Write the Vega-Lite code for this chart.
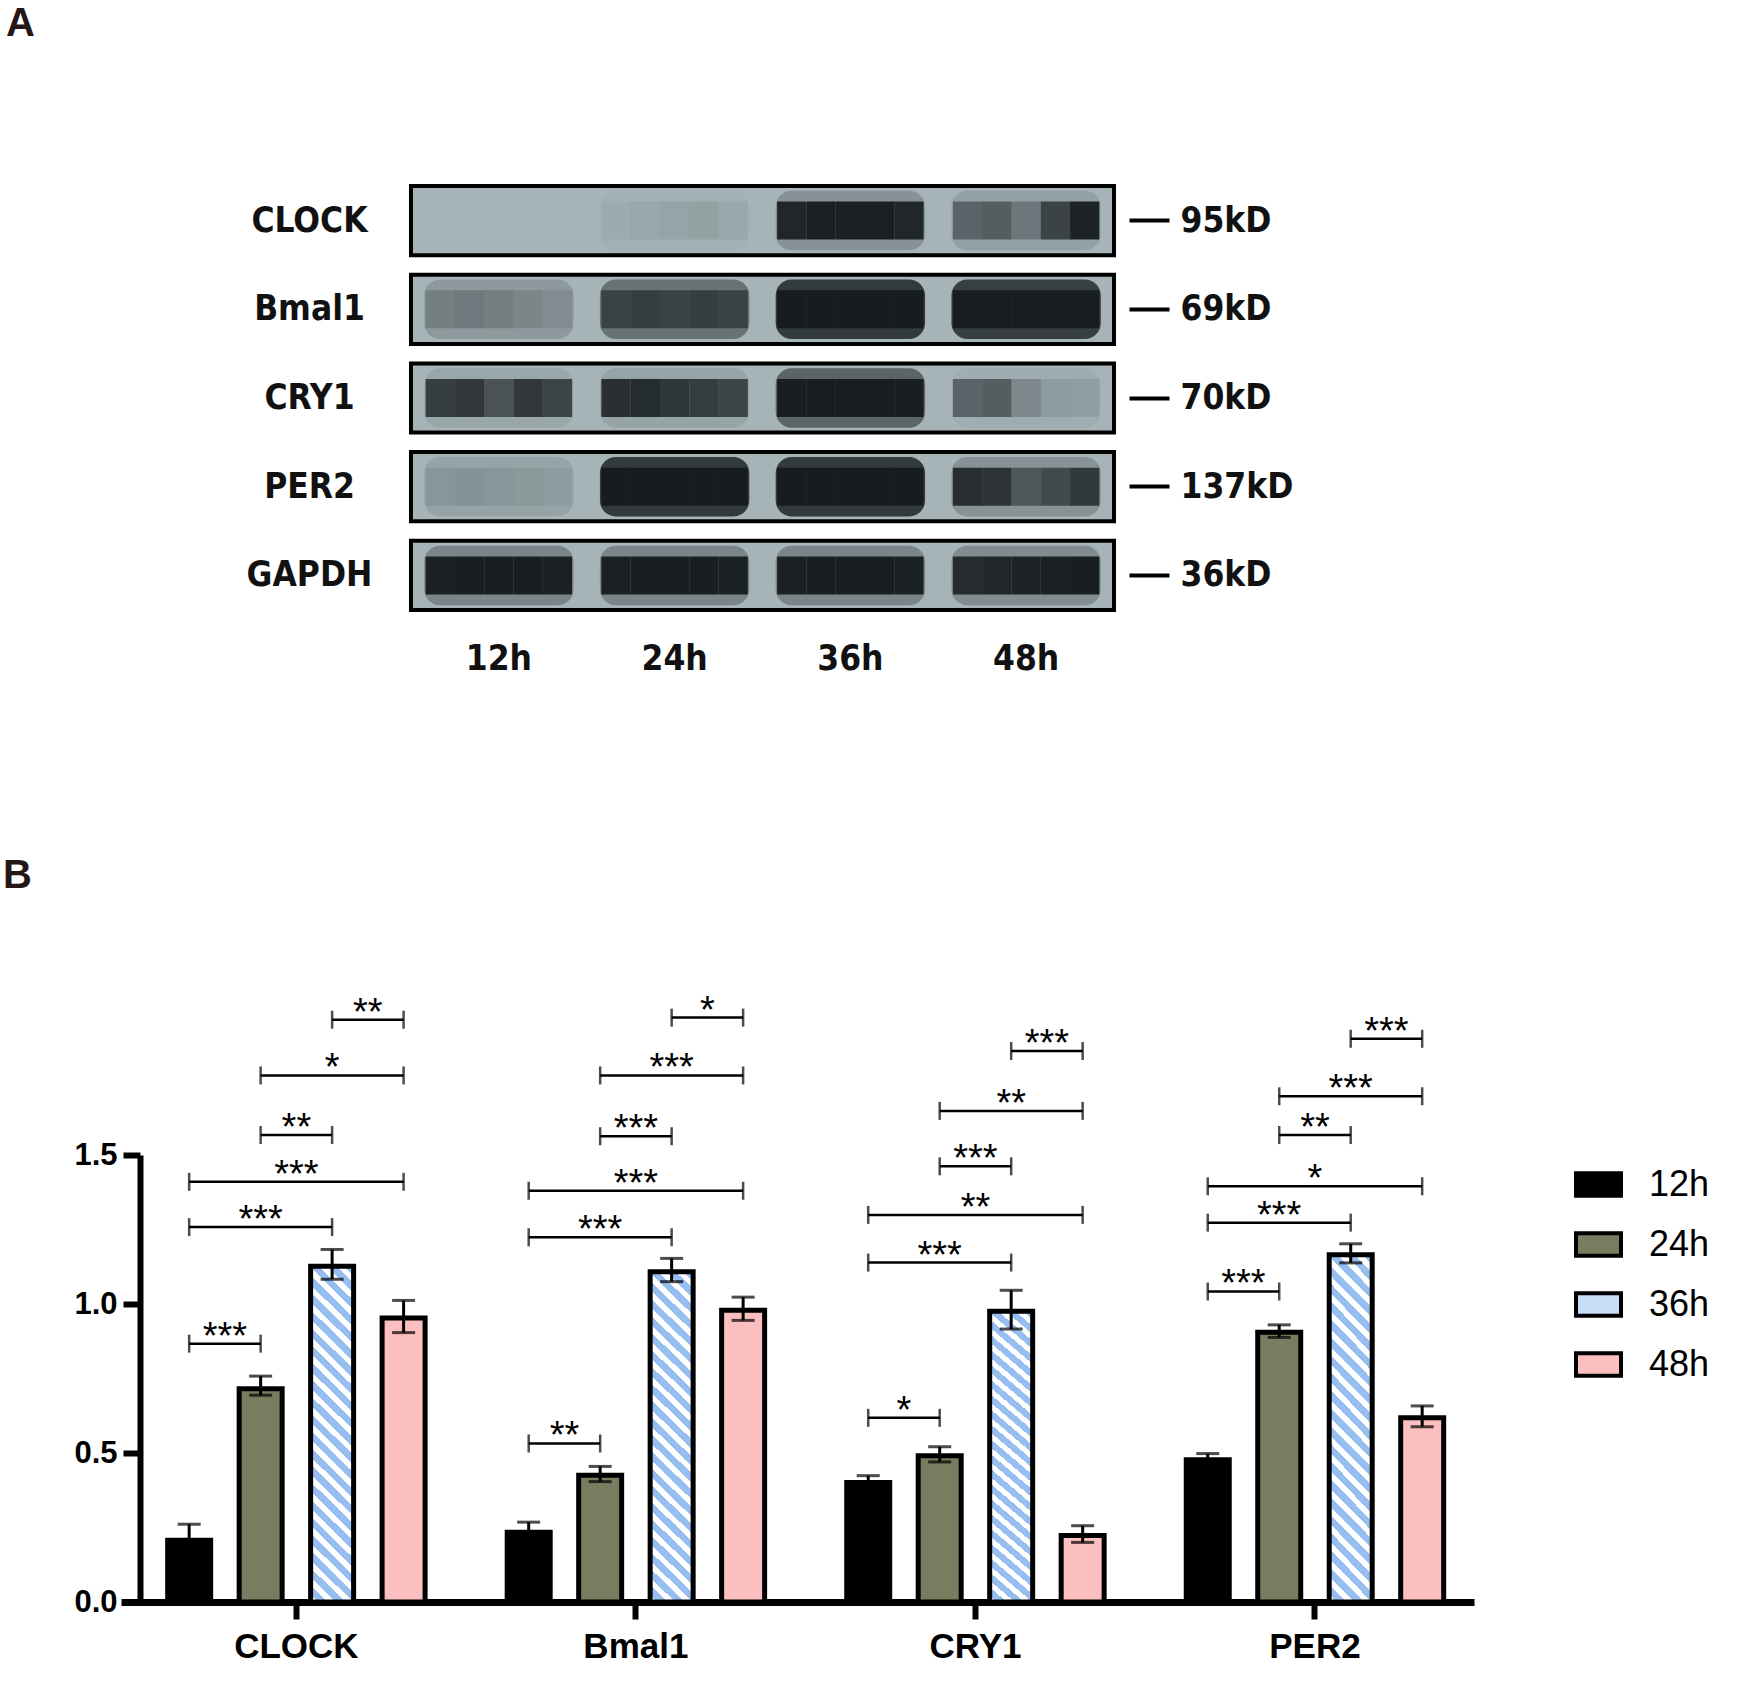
{
  "$schema": "https://vega.github.io/schema/vega-lite/v6.json",
  "padding": {"left": 3, "top": 4, "right": 5, "bottom": 5},
  "columns": 1,
  "align": "none",
  "spacing": 179,
  "resolve": {"legend": {"fill": "independent"}},
  "config": {
    "view": {"stroke": null},
    "font": "Liberation Sans",
    "title": {"font": "Liberation Sans", "fontWeight": "bold", "fontSize": 40, "color": "#231815", "anchor": "start", "frame": "group"}
  },
  "datasets": {
    "proteins": [
      {"protein": "CLOCK", "marker": "95kD"},
      {"protein": "Bmal1", "marker": "69kD"},
      {"protein": "CRY1", "marker": "70kD"},
      {"protein": "PER2", "marker": "137kD"},
      {"protein": "GAPDH", "marker": "36kD"}
    ],
    "smear": [
      {"protein": "CLOCK", "lane": "12h", "smear": 0.0},
      {"protein": "CLOCK", "lane": "24h", "smear": 0.03},
      {"protein": "CLOCK", "lane": "36h", "smear": 0.25},
      {"protein": "CLOCK", "lane": "48h", "smear": 0.15},
      {"protein": "Bmal1", "lane": "12h", "smear": 0.2},
      {"protein": "Bmal1", "lane": "24h", "smear": 0.5},
      {"protein": "Bmal1", "lane": "36h", "smear": 0.92},
      {"protein": "Bmal1", "lane": "48h", "smear": 0.88},
      {"protein": "CRY1", "lane": "12h", "smear": 0.1},
      {"protein": "CRY1", "lane": "24h", "smear": 0.12},
      {"protein": "CRY1", "lane": "36h", "smear": 0.6},
      {"protein": "CRY1", "lane": "48h", "smear": 0.05},
      {"protein": "PER2", "lane": "12h", "smear": 0.12},
      {"protein": "PER2", "lane": "24h", "smear": 0.92},
      {"protein": "PER2", "lane": "36h", "smear": 0.92},
      {"protein": "PER2", "lane": "48h", "smear": 0.25},
      {"protein": "GAPDH", "lane": "12h", "smear": 0.35},
      {"protein": "GAPDH", "lane": "24h", "smear": 0.35},
      {"protein": "GAPDH", "lane": "36h", "smear": 0.35},
      {"protein": "GAPDH", "lane": "48h", "smear": 0.3}
    ],
    "bands": [
      {"protein": "CLOCK", "lane": "12h", "part": "p1", "signal": 0.0},
      {"protein": "CLOCK", "lane": "12h", "part": "p2", "signal": 0.0},
      {"protein": "CLOCK", "lane": "12h", "part": "p3", "signal": 0.0},
      {"protein": "CLOCK", "lane": "12h", "part": "p4", "signal": 0.0},
      {"protein": "CLOCK", "lane": "12h", "part": "p5", "signal": 0.0},
      {"protein": "CLOCK", "lane": "24h", "part": "p1", "signal": 0.03},
      {"protein": "CLOCK", "lane": "24h", "part": "p2", "signal": 0.06},
      {"protein": "CLOCK", "lane": "24h", "part": "p3", "signal": 0.08},
      {"protein": "CLOCK", "lane": "24h", "part": "p4", "signal": 0.1},
      {"protein": "CLOCK", "lane": "24h", "part": "p5", "signal": 0.05},
      {"protein": "CLOCK", "lane": "36h", "part": "p1", "signal": 0.9},
      {"protein": "CLOCK", "lane": "36h", "part": "p2", "signal": 0.97},
      {"protein": "CLOCK", "lane": "36h", "part": "p3", "signal": 0.97},
      {"protein": "CLOCK", "lane": "36h", "part": "p4", "signal": 0.97},
      {"protein": "CLOCK", "lane": "36h", "part": "p5", "signal": 0.9},
      {"protein": "CLOCK", "lane": "48h", "part": "p1", "signal": 0.45},
      {"protein": "CLOCK", "lane": "48h", "part": "p2", "signal": 0.5},
      {"protein": "CLOCK", "lane": "48h", "part": "p3", "signal": 0.3},
      {"protein": "CLOCK", "lane": "48h", "part": "p4", "signal": 0.7},
      {"protein": "CLOCK", "lane": "48h", "part": "p5", "signal": 0.95},
      {"protein": "Bmal1", "lane": "12h", "part": "p1", "signal": 0.2},
      {"protein": "Bmal1", "lane": "12h", "part": "p2", "signal": 0.25},
      {"protein": "Bmal1", "lane": "12h", "part": "p3", "signal": 0.2},
      {"protein": "Bmal1", "lane": "12h", "part": "p4", "signal": 0.15},
      {"protein": "Bmal1", "lane": "12h", "part": "p5", "signal": 0.1},
      {"protein": "Bmal1", "lane": "24h", "part": "p1", "signal": 0.55},
      {"protein": "Bmal1", "lane": "24h", "part": "p2", "signal": 0.6},
      {"protein": "Bmal1", "lane": "24h", "part": "p3", "signal": 0.55},
      {"protein": "Bmal1", "lane": "24h", "part": "p4", "signal": 0.6},
      {"protein": "Bmal1", "lane": "24h", "part": "p5", "signal": 0.55},
      {"protein": "Bmal1", "lane": "36h", "part": "p1", "signal": 0.95},
      {"protein": "Bmal1", "lane": "36h", "part": "p2", "signal": 0.97},
      {"protein": "Bmal1", "lane": "36h", "part": "p3", "signal": 0.97},
      {"protein": "Bmal1", "lane": "36h", "part": "p4", "signal": 0.97},
      {"protein": "Bmal1", "lane": "36h", "part": "p5", "signal": 0.95},
      {"protein": "Bmal1", "lane": "48h", "part": "p1", "signal": 0.93},
      {"protein": "Bmal1", "lane": "48h", "part": "p2", "signal": 0.95},
      {"protein": "Bmal1", "lane": "48h", "part": "p3", "signal": 0.95},
      {"protein": "Bmal1", "lane": "48h", "part": "p4", "signal": 0.95},
      {"protein": "Bmal1", "lane": "48h", "part": "p5", "signal": 0.93},
      {"protein": "CRY1", "lane": "12h", "part": "p1", "signal": 0.75},
      {"protein": "CRY1", "lane": "12h", "part": "p2", "signal": 0.8},
      {"protein": "CRY1", "lane": "12h", "part": "p3", "signal": 0.6},
      {"protein": "CRY1", "lane": "12h", "part": "p4", "signal": 0.8},
      {"protein": "CRY1", "lane": "12h", "part": "p5", "signal": 0.7},
      {"protein": "CRY1", "lane": "24h", "part": "p1", "signal": 0.85},
      {"protein": "CRY1", "lane": "24h", "part": "p2", "signal": 0.88},
      {"protein": "CRY1", "lane": "24h", "part": "p3", "signal": 0.8},
      {"protein": "CRY1", "lane": "24h", "part": "p4", "signal": 0.75},
      {"protein": "CRY1", "lane": "24h", "part": "p5", "signal": 0.7},
      {"protein": "CRY1", "lane": "36h", "part": "p1", "signal": 0.95},
      {"protein": "CRY1", "lane": "36h", "part": "p2", "signal": 0.97},
      {"protein": "CRY1", "lane": "36h", "part": "p3", "signal": 0.97},
      {"protein": "CRY1", "lane": "36h", "part": "p4", "signal": 0.97},
      {"protein": "CRY1", "lane": "36h", "part": "p5", "signal": 0.95},
      {"protein": "CRY1", "lane": "48h", "part": "p1", "signal": 0.5},
      {"protein": "CRY1", "lane": "48h", "part": "p2", "signal": 0.55},
      {"protein": "CRY1", "lane": "48h", "part": "p3", "signal": 0.25},
      {"protein": "CRY1", "lane": "48h", "part": "p4", "signal": 0.12},
      {"protein": "CRY1", "lane": "48h", "part": "p5", "signal": 0.1},
      {"protein": "PER2", "lane": "12h", "part": "p1", "signal": 0.1},
      {"protein": "PER2", "lane": "12h", "part": "p2", "signal": 0.12},
      {"protein": "PER2", "lane": "12h", "part": "p3", "signal": 0.1},
      {"protein": "PER2", "lane": "12h", "part": "p4", "signal": 0.08},
      {"protein": "PER2", "lane": "12h", "part": "p5", "signal": 0.06},
      {"protein": "PER2", "lane": "24h", "part": "p1", "signal": 0.95},
      {"protein": "PER2", "lane": "24h", "part": "p2", "signal": 0.97},
      {"protein": "PER2", "lane": "24h", "part": "p3", "signal": 0.97},
      {"protein": "PER2", "lane": "24h", "part": "p4", "signal": 0.97},
      {"protein": "PER2", "lane": "24h", "part": "p5", "signal": 0.95},
      {"protein": "PER2", "lane": "36h", "part": "p1", "signal": 0.95},
      {"protein": "PER2", "lane": "36h", "part": "p2", "signal": 0.97},
      {"protein": "PER2", "lane": "36h", "part": "p3", "signal": 0.97},
      {"protein": "PER2", "lane": "36h", "part": "p4", "signal": 0.97},
      {"protein": "PER2", "lane": "36h", "part": "p5", "signal": 0.95},
      {"protein": "PER2", "lane": "48h", "part": "p1", "signal": 0.85},
      {"protein": "PER2", "lane": "48h", "part": "p2", "signal": 0.8},
      {"protein": "PER2", "lane": "48h", "part": "p3", "signal": 0.5},
      {"protein": "PER2", "lane": "48h", "part": "p4", "signal": 0.6},
      {"protein": "PER2", "lane": "48h", "part": "p5", "signal": 0.75},
      {"protein": "GAPDH", "lane": "12h", "part": "p1", "signal": 0.95},
      {"protein": "GAPDH", "lane": "12h", "part": "p2", "signal": 0.97},
      {"protein": "GAPDH", "lane": "12h", "part": "p3", "signal": 0.97},
      {"protein": "GAPDH", "lane": "12h", "part": "p4", "signal": 0.97},
      {"protein": "GAPDH", "lane": "12h", "part": "p5", "signal": 0.95},
      {"protein": "GAPDH", "lane": "24h", "part": "p1", "signal": 0.95},
      {"protein": "GAPDH", "lane": "24h", "part": "p2", "signal": 0.97},
      {"protein": "GAPDH", "lane": "24h", "part": "p3", "signal": 0.97},
      {"protein": "GAPDH", "lane": "24h", "part": "p4", "signal": 0.97},
      {"protein": "GAPDH", "lane": "24h", "part": "p5", "signal": 0.95},
      {"protein": "GAPDH", "lane": "36h", "part": "p1", "signal": 0.95},
      {"protein": "GAPDH", "lane": "36h", "part": "p2", "signal": 0.97},
      {"protein": "GAPDH", "lane": "36h", "part": "p3", "signal": 0.97},
      {"protein": "GAPDH", "lane": "36h", "part": "p4", "signal": 0.97},
      {"protein": "GAPDH", "lane": "36h", "part": "p5", "signal": 0.95},
      {"protein": "GAPDH", "lane": "48h", "part": "p1", "signal": 0.85},
      {"protein": "GAPDH", "lane": "48h", "part": "p2", "signal": 0.9},
      {"protein": "GAPDH", "lane": "48h", "part": "p3", "signal": 0.93},
      {"protein": "GAPDH", "lane": "48h", "part": "p4", "signal": 0.95},
      {"protein": "GAPDH", "lane": "48h", "part": "p5", "signal": 0.97}
    ],
    "bars": [
      {"group": "CLOCK", "time": "12h", "mean": 0.207, "lo": 0.16, "hi": 0.261},
      {"group": "CLOCK", "time": "24h", "mean": 0.716, "lo": 0.694, "hi": 0.758},
      {"group": "CLOCK", "time": "36h", "mean": 1.127, "lo": 1.083, "hi": 1.183},
      {"group": "CLOCK", "time": "48h", "mean": 0.953, "lo": 0.904, "hi": 1.012},
      {"group": "Bmal1", "time": "12h", "mean": 0.234, "lo": 0.205, "hi": 0.268},
      {"group": "Bmal1", "time": "24h", "mean": 0.425, "lo": 0.404, "hi": 0.455},
      {"group": "Bmal1", "time": "36h", "mean": 1.108, "lo": 1.075, "hi": 1.153},
      {"group": "Bmal1", "time": "48h", "mean": 0.979, "lo": 0.945, "hi": 1.023},
      {"group": "CRY1", "time": "12h", "mean": 0.401, "lo": 0.384, "hi": 0.424},
      {"group": "CRY1", "time": "24h", "mean": 0.491, "lo": 0.47, "hi": 0.521},
      {"group": "CRY1", "time": "36h", "mean": 0.976, "lo": 0.916, "hi": 1.046},
      {"group": "CRY1", "time": "48h", "mean": 0.223, "lo": 0.2, "hi": 0.256},
      {"group": "PER2", "time": "12h", "mean": 0.477, "lo": 0.46, "hi": 0.498},
      {"group": "PER2", "time": "24h", "mean": 0.905, "lo": 0.888, "hi": 0.93},
      {"group": "PER2", "time": "36h", "mean": 1.165, "lo": 1.138, "hi": 1.202},
      {"group": "PER2", "time": "48h", "mean": 0.618, "lo": 0.588, "hi": 0.658}
    ],
    "brackets": [
      {"group": "CLOCK", "from": "12h", "to": "24h", "mid": "12-24h", "level": 0.867, "sig": "***"},
      {"group": "CLOCK", "from": "12h", "to": "36h", "mid": "24h", "level": 1.258, "sig": "***"},
      {"group": "CLOCK", "from": "12h", "to": "48h", "mid": "24-36h", "level": 1.41, "sig": "***"},
      {"group": "CLOCK", "from": "24h", "to": "36h", "mid": "24-36h", "level": 1.567, "sig": "**"},
      {"group": "CLOCK", "from": "24h", "to": "48h", "mid": "36h", "level": 1.767, "sig": "*"},
      {"group": "CLOCK", "from": "36h", "to": "48h", "mid": "36-48h", "level": 1.954, "sig": "**"},
      {"group": "Bmal1", "from": "12h", "to": "24h", "mid": "12-24h", "level": 0.532, "sig": "**"},
      {"group": "Bmal1", "from": "12h", "to": "36h", "mid": "24h", "level": 1.224, "sig": "***"},
      {"group": "Bmal1", "from": "12h", "to": "48h", "mid": "24-36h", "level": 1.38, "sig": "***"},
      {"group": "Bmal1", "from": "24h", "to": "36h", "mid": "24-36h", "level": 1.563, "sig": "***"},
      {"group": "Bmal1", "from": "24h", "to": "48h", "mid": "36h", "level": 1.767, "sig": "***"},
      {"group": "Bmal1", "from": "36h", "to": "48h", "mid": "36-48h", "level": 1.961, "sig": "*"},
      {"group": "CRY1", "from": "12h", "to": "24h", "mid": "12-24h", "level": 0.618, "sig": "*"},
      {"group": "CRY1", "from": "12h", "to": "36h", "mid": "24h", "level": 1.139, "sig": "***"},
      {"group": "CRY1", "from": "12h", "to": "48h", "mid": "24-36h", "level": 1.299, "sig": "**"},
      {"group": "CRY1", "from": "24h", "to": "36h", "mid": "24-36h", "level": 1.462, "sig": "***"},
      {"group": "CRY1", "from": "24h", "to": "48h", "mid": "36h", "level": 1.648, "sig": "**"},
      {"group": "CRY1", "from": "36h", "to": "48h", "mid": "36-48h", "level": 1.849, "sig": "***"},
      {"group": "PER2", "from": "12h", "to": "24h", "mid": "12-24h", "level": 1.042, "sig": "***"},
      {"group": "PER2", "from": "12h", "to": "36h", "mid": "24h", "level": 1.273, "sig": "***"},
      {"group": "PER2", "from": "12h", "to": "48h", "mid": "24-36h", "level": 1.395, "sig": "*"},
      {"group": "PER2", "from": "24h", "to": "36h", "mid": "24-36h", "level": 1.567, "sig": "**"},
      {"group": "PER2", "from": "24h", "to": "48h", "mid": "36h", "level": 1.697, "sig": "***"},
      {"group": "PER2", "from": "36h", "to": "48h", "mid": "36-48h", "level": 1.89, "sig": "***"}
    ]
  },
  "concat": [
    {
      "width": 993,
      "height": 424,
      "title": {"text": "A", "dx": -115, "offset": 140},
      "layer": [
        {
          "layer": [
            {
              "data": {"name": "proteins"},
              "mark": {"type": "rect", "fill": "#a6b4b8", "stroke": "black", "strokeWidth": 4, "width": {"band": 24}},
              "encoding": {
                "x": {
                  "datum": "24h|gap", "type": "nominal",
                  "scale": {
                    "domain": ["pad1", "pad2", "pad3", "pad4", "pad5", "pad6", "pad7", "pad8", "pad9", "pad10",
                               "12h|p1", "12h|p2", "12h|p3", "12h|p4", "12h|p5", "12h|gap",
                               "24h|p1", "24h|p2", "24h|p3", "24h|p4", "24h|p5", "24h|gap",
                               "36h|p1", "36h|p2", "36h|p3", "36h|p4", "36h|p5", "36h|gap",
                               "48h|p1", "48h|p2", "48h|p3", "48h|p4", "48h|p5"],
                    "paddingInner": 0, "paddingOuter": 0.45, "align": 0.444
                  },
                  "axis": {
                    "orient": "bottom", "title": null, "domain": false, "ticks": false, "tickSize": 0,
                    "values": ["12h|p3", "24h|p3", "36h|p3", "48h|p3"],
                    "labelExpr": "split(datum.value, '|')[0]",
                    "labelAngle": 0, "labelPadding": 31,
                    "labelFont": "DejaVu Sans Condensed", "labelFontWeight": "bold", "labelFontSize": 35, "labelColor": "#111111"
                  }
                },
                "y": {
                  "field": "protein", "type": "nominal",
                  "sort": ["CLOCK", "Bmal1", "CRY1", "PER2", "GAPDH"],
                  "scale": {"paddingInner": 0.22, "paddingOuter": 0},
                  "axis": {
                    "orient": "left", "title": null, "domain": false, "ticks": false, "tickSize": 0,
                    "offset": -188, "labelAlign": "center", "labelPadding": 0,
                    "labelFont": "DejaVu Sans Condensed", "labelFontWeight": "bold", "labelFontSize": 35, "labelColor": "#111111"
                  }
                }
              }
            },
            {
              "data": {"name": "smear"},
              "transform": [{"calculate": "datum.lane + '|p3'", "as": "key"}],
              "mark": {"type": "rect", "fill": "#1b2124", "width": {"band": 5.1}, "height": {"band": 0.86}, "cornerRadius": 16},
              "encoding": {
                "x": {"field": "key", "type": "nominal", "axis": {"title": null}},
                "y": {"field": "protein", "type": "nominal", "sort": ["CLOCK", "Bmal1", "CRY1", "PER2", "GAPDH"], "axis": {"title": null}},
                "opacity": {"field": "smear", "type": "quantitative", "scale": {"domain": [0, 1], "range": [0, 0.9]}, "legend": null}
              }
            },
            {
              "data": {"name": "bands"},
              "transform": [{"calculate": "datum.lane + '|' + datum.part", "as": "key"}],
              "mark": {"type": "rect", "fill": "#161b1e", "height": {"band": 0.55}},
              "encoding": {
                "x": {"field": "key", "type": "nominal", "axis": {"title": null}},
                "y": {"field": "protein", "type": "nominal", "sort": ["CLOCK", "Bmal1", "CRY1", "PER2", "GAPDH"], "axis": {"title": null}},
                "opacity": {"field": "signal", "type": "quantitative", "scale": {"domain": [0, 1], "range": [0, 1]}, "legend": null}
              }
            }
          ],
          "resolve": {"scale": {"opacity": "independent"}}
        },
        {
          "data": {"name": "proteins"},
          "mark": {"type": "tick", "opacity": 0},
          "encoding": {
            "y": {
              "field": "marker", "type": "nominal", "sort": null,
              "scale": {"paddingInner": 0.22, "paddingOuter": 0},
              "axis": {
                "orient": "right", "title": null, "domain": false, "offset": 15,
                "tickSize": 40, "tickWidth": 4, "tickColor": "black",
                "labelPadding": 11, "labelAlign": "left",
                "labelFont": "DejaVu Sans Condensed", "labelFontWeight": "bold", "labelFontSize": 35, "labelColor": "#111111"
              }
            }
          }
        }
      ],
      "resolve": {"scale": {"y": "independent"}}
    },
    {
      "width": 1353,
      "height": 447,
      "title": {"text": "B", "dx": -118, "offset": 97},
      "layer": [
        {
          "data": {"name": "bars"},
          "transform": [{"calculate": "datum.group + '|' + datum.time", "as": "key"}],
          "mark": {"type": "bar", "width": {"band": 2.406}, "stroke": "black", "strokeWidth": 5},
          "encoding": {
            "x": {
              "field": "key", "type": "nominal",
              "scale": {
                "domain": [
                  "pad1", "pad2", "pad3",
                  "CLOCK|12h", "CLOCK|q1", "CLOCK|12-24h", "CLOCK|q3", "CLOCK|24h", "CLOCK|q5", "CLOCK|24-36h", "CLOCK|q7", "CLOCK|36h", "CLOCK|q9", "CLOCK|36-48h", "CLOCK|q11", "CLOCK|48h",
                  "CLOCK|g1", "CLOCK|g2", "CLOCK|g3", "CLOCK|g4", "CLOCK|g5", "CLOCK|g6",
                  "Bmal1|12h", "Bmal1|q1", "Bmal1|12-24h", "Bmal1|q3", "Bmal1|24h", "Bmal1|q5", "Bmal1|24-36h", "Bmal1|q7", "Bmal1|36h", "Bmal1|q9", "Bmal1|36-48h", "Bmal1|q11", "Bmal1|48h",
                  "Bmal1|g1", "Bmal1|g2", "Bmal1|g3", "Bmal1|g4", "Bmal1|g5", "Bmal1|g6",
                  "CRY1|12h", "CRY1|q1", "CRY1|12-24h", "CRY1|q3", "CRY1|24h", "CRY1|q5", "CRY1|24-36h", "CRY1|q7", "CRY1|36h", "CRY1|q9", "CRY1|36-48h", "CRY1|q11", "CRY1|48h",
                  "CRY1|g1", "CRY1|g2", "CRY1|g3", "CRY1|g4", "CRY1|g5", "CRY1|g6",
                  "PER2|12h", "PER2|q1", "PER2|12-24h", "PER2|q3", "PER2|24h", "PER2|q5", "PER2|24-36h", "PER2|q7", "PER2|36h", "PER2|q9", "PER2|36-48h", "PER2|q11", "PER2|48h",
                  "pad4", "pad5"
                ],
                "paddingInner": 0, "paddingOuter": 0.357, "align": 0.44
              },
              "axis": {
                "title": null, "labelAngle": 0,
                "values": ["CLOCK|24-36h", "Bmal1|24-36h", "CRY1|24-36h", "PER2|24-36h"],
                "labelExpr": "split(datum.value, '|')[0]",
                "domainWidth": 7, "domainColor": "black",
                "tickWidth": 6, "tickSize": 17, "tickColor": "black",
                "labelFont": "Liberation Sans", "labelFontWeight": "bold", "labelFontSize": 35,
                "labelColor": "black", "labelPadding": 10
              }
            },
            "y": {
              "field": "mean", "type": "quantitative",
              "scale": {"domain": [0, 1.5], "nice": false},
              "axis": {
                "title": null, "grid": false, "values": [0, 0.5, 1, 1.5], "format": ".1f",
                "offset": -19, "domainWidth": 6, "domainColor": "black",
                "tickWidth": 6, "tickSize": 17, "tickColor": "black",
                "labelFont": "Liberation Sans", "labelFontWeight": "bold", "labelFontSize": 31,
                "labelColor": "black", "labelPadding": 6
              }
            },
            "fill": {
              "condition": {
                "test": "datum.time === '36h'",
                "value": {
                  "gradient": "linear", "x1": 1, "y1": 0, "x2": 0.86, "y2": 1.109,
                  "stops": [
                    {"offset": 0, "color": "#96bef0"}, {"offset": 0.025, "color": "#96bef0"}, {"offset": 0.025, "color": "#ffffff"}, {"offset": 0.0455, "color": "#ffffff"},
                    {"offset": 0.0455, "color": "#96bef0"}, {"offset": 0.0705, "color": "#96bef0"}, {"offset": 0.0705, "color": "#ffffff"}, {"offset": 0.0909, "color": "#ffffff"},
                    {"offset": 0.0909, "color": "#96bef0"}, {"offset": 0.1159, "color": "#96bef0"}, {"offset": 0.1159, "color": "#ffffff"}, {"offset": 0.1364, "color": "#ffffff"},
                    {"offset": 0.1364, "color": "#96bef0"}, {"offset": 0.1614, "color": "#96bef0"}, {"offset": 0.1614, "color": "#ffffff"}, {"offset": 0.1818, "color": "#ffffff"},
                    {"offset": 0.1818, "color": "#96bef0"}, {"offset": 0.2068, "color": "#96bef0"}, {"offset": 0.2068, "color": "#ffffff"}, {"offset": 0.2273, "color": "#ffffff"},
                    {"offset": 0.2273, "color": "#96bef0"}, {"offset": 0.2523, "color": "#96bef0"}, {"offset": 0.2523, "color": "#ffffff"}, {"offset": 0.2727, "color": "#ffffff"},
                    {"offset": 0.2727, "color": "#96bef0"}, {"offset": 0.2977, "color": "#96bef0"}, {"offset": 0.2977, "color": "#ffffff"}, {"offset": 0.3182, "color": "#ffffff"},
                    {"offset": 0.3182, "color": "#96bef0"}, {"offset": 0.3432, "color": "#96bef0"}, {"offset": 0.3432, "color": "#ffffff"}, {"offset": 0.3636, "color": "#ffffff"},
                    {"offset": 0.3636, "color": "#96bef0"}, {"offset": 0.3886, "color": "#96bef0"}, {"offset": 0.3886, "color": "#ffffff"}, {"offset": 0.4091, "color": "#ffffff"},
                    {"offset": 0.4091, "color": "#96bef0"}, {"offset": 0.4341, "color": "#96bef0"}, {"offset": 0.4341, "color": "#ffffff"}, {"offset": 0.4545, "color": "#ffffff"},
                    {"offset": 0.4545, "color": "#96bef0"}, {"offset": 0.4795, "color": "#96bef0"}, {"offset": 0.4795, "color": "#ffffff"}, {"offset": 0.5, "color": "#ffffff"},
                    {"offset": 0.5, "color": "#96bef0"}, {"offset": 0.525, "color": "#96bef0"}, {"offset": 0.525, "color": "#ffffff"}, {"offset": 0.5455, "color": "#ffffff"},
                    {"offset": 0.5455, "color": "#96bef0"}, {"offset": 0.5705, "color": "#96bef0"}, {"offset": 0.5705, "color": "#ffffff"}, {"offset": 0.5909, "color": "#ffffff"},
                    {"offset": 0.5909, "color": "#96bef0"}, {"offset": 0.6159, "color": "#96bef0"}, {"offset": 0.6159, "color": "#ffffff"}, {"offset": 0.6364, "color": "#ffffff"},
                    {"offset": 0.6364, "color": "#96bef0"}, {"offset": 0.6614, "color": "#96bef0"}, {"offset": 0.6614, "color": "#ffffff"}, {"offset": 0.6818, "color": "#ffffff"},
                    {"offset": 0.6818, "color": "#96bef0"}, {"offset": 0.7068, "color": "#96bef0"}, {"offset": 0.7068, "color": "#ffffff"}, {"offset": 0.7273, "color": "#ffffff"},
                    {"offset": 0.7273, "color": "#96bef0"}, {"offset": 0.7523, "color": "#96bef0"}, {"offset": 0.7523, "color": "#ffffff"}, {"offset": 0.7727, "color": "#ffffff"},
                    {"offset": 0.7727, "color": "#96bef0"}, {"offset": 0.7977, "color": "#96bef0"}, {"offset": 0.7977, "color": "#ffffff"}, {"offset": 0.8182, "color": "#ffffff"},
                    {"offset": 0.8182, "color": "#96bef0"}, {"offset": 0.8432, "color": "#96bef0"}, {"offset": 0.8432, "color": "#ffffff"}, {"offset": 0.8636, "color": "#ffffff"},
                    {"offset": 0.8636, "color": "#96bef0"}, {"offset": 0.8886, "color": "#96bef0"}, {"offset": 0.8886, "color": "#ffffff"}, {"offset": 0.9091, "color": "#ffffff"},
                    {"offset": 0.9091, "color": "#96bef0"}, {"offset": 0.9341, "color": "#96bef0"}, {"offset": 0.9341, "color": "#ffffff"}, {"offset": 0.9545, "color": "#ffffff"},
                    {"offset": 0.9545, "color": "#96bef0"}, {"offset": 0.9795, "color": "#96bef0"}, {"offset": 0.9795, "color": "#ffffff"}, {"offset": 1, "color": "#ffffff"}
                  ]
                }
              },
              "field": "time", "type": "nominal",
              "scale": {"domain": ["12h", "24h", "36h", "48h"], "range": ["#000000", "#7a7c5f", "#c6dcf7", "#fbbfc0"]},
              "legend": {
                "title": null, "orient": "right", "offset": 95, "padding": 5,
                "symbolType": "M-1,-0.5H1V0.5H-1Z", "symbolSize": 2025,
                "symbolStrokeColor": "black", "symbolStrokeWidth": 4,
                "labelFont": "Liberation Sans", "labelFontSize": 36, "labelColor": "black",
                "labelOffset": 26, "rowPadding": 16
              }
            }
          }
        },
        {
          "data": {"name": "bars"},
          "transform": [{"calculate": "datum.group + '|' + datum.time", "as": "key"}],
          "mark": {"type": "rule", "color": "black", "strokeWidth": 3},
          "encoding": {
            "x": {"field": "key", "type": "nominal", "axis": {"title": null}},
            "y": {"field": "lo", "type": "quantitative", "scale": {"domain": [0, 1.5], "nice": false}, "axis": {"title": null}},
            "y2": {"field": "hi"}
          }
        },
        {
          "data": {"name": "bars"},
          "transform": [
            {"calculate": "datum.group + '|' + datum.time", "as": "key"},
            {"fold": ["lo", "hi"], "as": ["end", "v"]}
          ],
          "mark": {"type": "tick", "orient": "horizontal", "color": "black", "size": 23, "thickness": 3},
          "encoding": {
            "x": {"field": "key", "type": "nominal", "axis": {"title": null}},
            "y": {"field": "v", "type": "quantitative", "scale": {"domain": [0, 1.5], "nice": false}, "axis": {"title": null}}
          }
        },
        {
          "data": {"name": "brackets"},
          "transform": [
            {"fold": ["from", "to"], "as": ["end", "slot"]},
            {"calculate": "datum.group + '|' + datum.slot", "as": "key"}
          ],
          "mark": {"type": "line", "color": "black", "strokeWidth": 2.5},
          "encoding": {
            "x": {"field": "key", "type": "nominal", "axis": {"title": null}},
            "y": {"field": "level", "type": "quantitative", "scale": {"domain": [0, 1.5], "nice": false}, "axis": {"title": null}},
            "detail": [{"field": "group"}, {"field": "from"}, {"field": "to"}]
          }
        },
        {
          "data": {"name": "brackets"},
          "transform": [
            {"fold": ["from", "to"], "as": ["end", "slot"]},
            {"calculate": "datum.group + '|' + datum.slot", "as": "key"}
          ],
          "mark": {"type": "tick", "orient": "vertical", "color": "black", "size": 18, "thickness": 2.5},
          "encoding": {
            "x": {"field": "key", "type": "nominal", "axis": {"title": null}},
            "y": {"field": "level", "type": "quantitative", "scale": {"domain": [0, 1.5], "nice": false}, "axis": {"title": null}}
          }
        },
        {
          "data": {"name": "brackets"},
          "transform": [{"calculate": "datum.group + '|' + datum.mid", "as": "key"}],
          "mark": {"type": "text", "fontSize": 38, "font": "Liberation Sans", "color": "black", "baseline": "alphabetic", "align": "center", "dy": 5},
          "encoding": {
            "x": {"field": "key", "type": "nominal", "axis": {"title": null}},
            "y": {"field": "level", "type": "quantitative", "scale": {"domain": [0, 1.5], "nice": false}, "axis": {"title": null}},
            "text": {"field": "sig"}
          }
        }
      ]
    }
  ]
}
